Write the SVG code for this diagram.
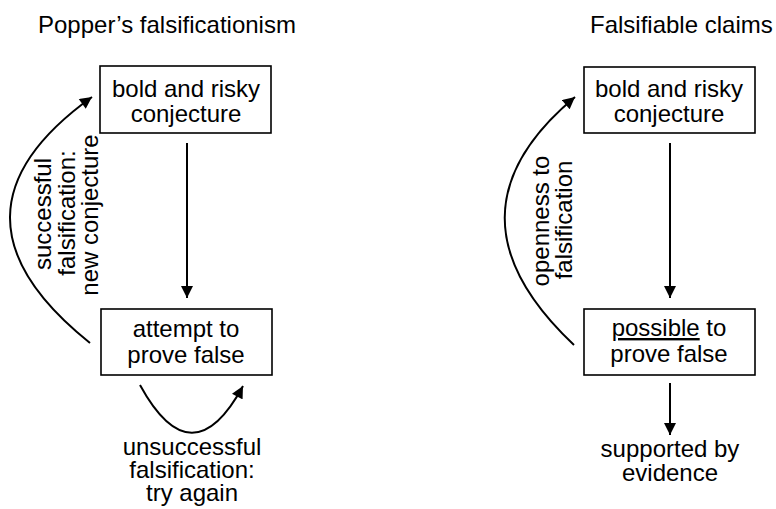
<svg xmlns="http://www.w3.org/2000/svg" width="776" height="509" viewBox="0 0 776 509">
<style>
text{font-family:"Liberation Sans",Arial,Helvetica,sans-serif;font-size:24px;fill:#000}
.c{text-anchor:middle}
.box{fill:#fff;stroke:#000;stroke-width:1.6}
.ln{fill:none;stroke:#000;stroke-width:2}
</style>
<defs>
<marker id="ah" viewBox="0 0 10 10" refX="10" refY="5" markerUnits="userSpaceOnUse" markerWidth="13" markerHeight="12" orient="auto">
<path d="M0,0 L10,5 L0,10 z" fill="#000"/>
</marker>
</defs>
<rect width="776" height="509" fill="#fff"/>
<text id="title-left" x="38" y="33">Popper’s falsificationism</text>
<text id="title-right" x="590" y="33">Falsifiable claims</text>
<g id="connectors">
<line class="ln" x1="187" y1="143" x2="187" y2="298" marker-end="url(#ah)"/>
<path class="ln" d="M90,343 Q-71,214 92,97" marker-end="url(#ah)"/>
<path class="ln" d="M140,385 Q192,480 243,386" marker-end="url(#ah)"/>
<line class="ln" x1="670" y1="143" x2="670" y2="298" marker-end="url(#ah)"/>
<path class="ln" d="M574,345 Q435,214 575,97" marker-end="url(#ah)"/>
<line class="ln" x1="670" y1="383" x2="670" y2="435" marker-end="url(#ah)"/>
</g>
<g id="n-conj-left">
<rect class="box" x="100" y="66" width="171" height="67"/>
<text class="c" x="186" y="97">bold and risky</text>
<text class="c" x="186" y="122">conjecture</text>
</g>
<g id="n-attempt">
<rect class="box" x="101" y="309" width="171" height="66"/>
<text class="c" x="186" y="337">attempt to</text>
<text class="c" x="186" y="363">prove false</text>
</g>
<g id="l-successful">
<text class="c" transform="translate(51,214) rotate(-90)">successful</text>
<text class="c" transform="translate(75,213) rotate(-90)">falsification:</text>
<text class="c" transform="translate(98,215) rotate(-90)">new conjecture</text>
</g>
<g id="l-unsuccessful">
<text class="c" x="192" y="455">unsuccessful</text>
<text class="c" x="192" y="478">falsification:</text>
<text class="c" x="192" y="501">try again</text>
</g>
<g id="n-conj-right">
<rect class="box" x="584" y="67" width="171" height="66"/>
<text class="c" x="669" y="97">bold and risky</text>
<text class="c" x="669" y="122">conjecture</text>
</g>
<g id="n-possible">
<rect class="box" x="584" y="309" width="171" height="66"/>
<text class="c" x="669" y="336"><tspan text-decoration="underline">possible</tspan> to</text>
<text class="c" x="669" y="362">prove false</text>
</g>
<g id="l-openness">
<text class="c" transform="translate(549,221) rotate(-90)">openness to</text>
<text class="c" transform="translate(572,220) rotate(-90)">falsification</text>
</g>
<g id="n-supported">
<text class="c" x="670" y="457">supported by</text>
<text class="c" x="670" y="481">evidence</text>
</g>
</svg>
